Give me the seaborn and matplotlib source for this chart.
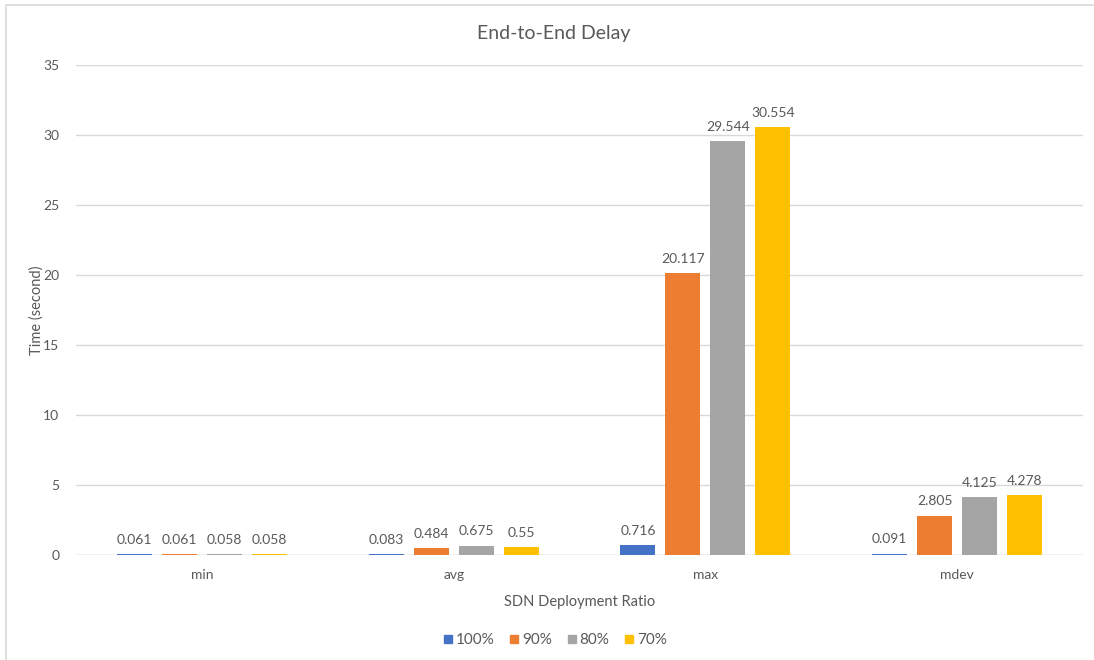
import matplotlib
matplotlib.use("Agg")
import matplotlib.pyplot as plt
import seaborn as sns
import pandas as pd
from matplotlib.lines import Line2D
from matplotlib.patches import Rectangle

categories = ["min", "avg", "max", "mdev"]
series_names = ["100%", "90%", "80%", "70%"]
vals_100 = [0.061, 0.083, 0.716, 0.091]
vals_90 = [0.061, 0.484, 20.117, 2.805]
vals_80 = [0.058, 0.675, 29.544, 4.125]
vals_70 = [0.058, 0.55, 30.554, 4.278]
colors = ["#4472C4", "#ED7D31", "#A5A5A5", "#FFC000"]
yticks = [0, 5, 10, 15, 20, 25, 30, 35]

rows = []
for name, vals in zip(series_names, [vals_100, vals_90, vals_80, vals_70]):
    for c, v in zip(categories, vals):
        rows.append({"stat": c, "ratio": name, "value": v})
df = pd.DataFrame(rows)

sns.set_theme(style="white")
plt.rcParams["font.family"] = ["Lato", "DejaVu Sans"]
txt = "#595959"

fig = plt.figure(figsize=(10.94, 6.60), dpi=100)
ax = fig.add_axes([76 / 1094, 1 - 555 / 660, (1083 - 76) / 1094, (555 - 65) / 660])

sns.barplot(data=df, x="stat", y="value", hue="ratio", order=categories,
            hue_order=series_names, palette=colors, width=0.714, gap=0.22,
            errorbar=None, ax=ax, legend=False, saturation=1, linewidth=0)

all_vals = [vals_100, vals_90, vals_80, vals_70]
for cont, vals in zip(ax.containers, all_vals):
    ax.bar_label(cont, labels=[f"{v:g}" for v in vals], padding=6,
                 fontsize=10, color=txt)

ax.set_xlim(-0.5, 3.5)
ax.set_ylim(0, 35)
ax.set_yticks(yticks)
ax.set_yticklabels([str(t) for t in yticks])
ax.yaxis.grid(True, color="#D9D9D9", linewidth=1)
ax.set_axisbelow(True)
for s in ax.spines.values():
    s.set_visible(False)
ax.axhline(0, color="#D9D9D9", linewidth=1, zorder=0.5)
ax.tick_params(axis="both", length=0, labelsize=10, labelcolor=txt, pad=10)
ax.tick_params(axis="y", pad=12)
ax.set_xlabel("SDN Deployment Ratio", fontsize=10.5, color=txt, labelpad=10)
ax.set_ylabel("Time (second)", fontsize=10.5, color=txt)
ax.yaxis.set_label_coords((44 - 76) / 1007, 0.5)
fig.text(0.506, 1 - 33 / 660, "End-to-End Delay", ha="center", va="center",
         fontsize=14, color=txt)

handles = [Line2D([0], [0], marker="s", linestyle="none", markersize=5.5,
                  markerfacecolor=c, markeredgecolor=c) for c in colors]
fig.legend(handles, series_names, loc="center", bbox_to_anchor=(0.506, 1 - 640 / 660),
           ncol=4, frameon=False, fontsize=11, labelcolor=txt,
           handletextpad=0.0, columnspacing=0.8, handlelength=1.0)

fig.patches.append(Rectangle((6 / 1094, -0.01), 1.1, 1 - 5 / 660 + 0.01,
                             transform=fig.transFigure, fill=False,
                             edgecolor="#D9D9D9", linewidth=1.2))

fig.savefig("out.png", dpi=100)
